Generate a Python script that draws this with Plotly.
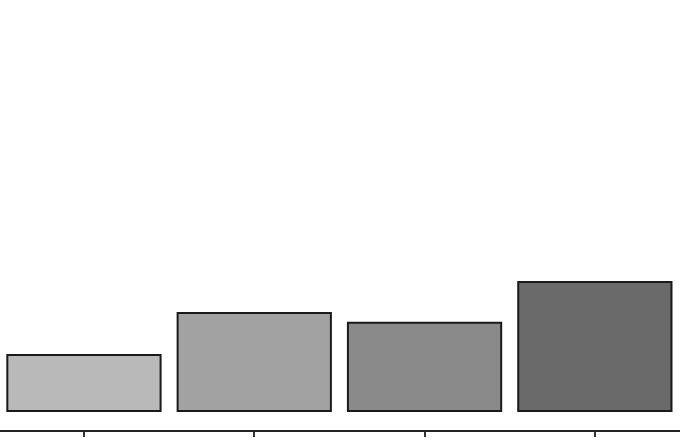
import plotly.graph_objects as go

# four groups, no labels shown on the axis
categories = ['A', 'B', 'C', 'D']
values = [13.0, 22.8, 20.5, 30.0]
bar_colors = ['#b9b9b9', '#a2a2a2', '#8a8a8a', '#6a6a6a']

fig = go.Figure()
fig.add_trace(go.Bar(
    x=categories, y=values,
    marker=dict(color=bar_colors, line=dict(color='#1a1a1a', width=2)),
    hoverinfo='skip',
))

fig.update_layout(
    width=680, height=440,
    margin=dict(l=0, r=0, t=0, b=10),
    paper_bgcolor='white', plot_bgcolor='white',
    bargap=0.1,
    showlegend=False,
)
fig.update_xaxes(
    showline=True, linecolor='#222', linewidth=2,
    ticks='outside', ticklen=5, tickwidth=1.5, tickcolor='#333',
    showticklabels=False, showgrid=False, zeroline=False,
    range=[-0.493, 3.5],
)
fig.update_yaxes(visible=False, range=[-4.42, 95.58])

# drop the default body margin so the figure fills the window
fig.write_html('out.html', config={'displayModeBar': False},
               post_script="document.body.style.margin='0';")
